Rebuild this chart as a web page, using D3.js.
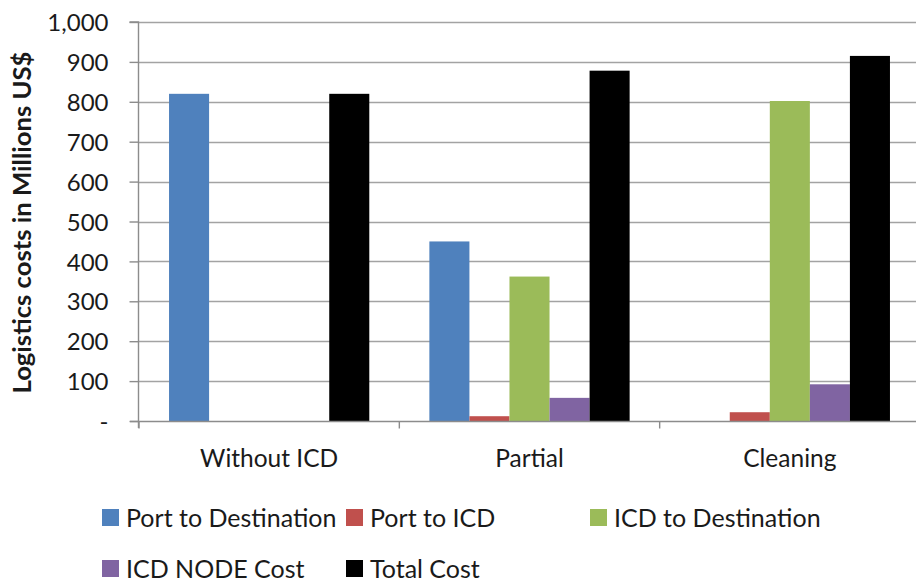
<!DOCTYPE html>
<html>
<head>
<meta charset="utf-8">
<script src="https://cdn.jsdelivr.net/npm/d3@7"></script>
<style>
  html, body { margin: 0; padding: 0; background: #fff; }
  svg { display: block; }
  text { font-family: Lato, "Open Sans", sans-serif; fill: #1a1a1a; }
</style>
</head>
<body>
<svg id="chart" width="916" height="582"></svg>
<script>
const categories = ["Without ICD", "Partial", "Cleaning"];
const seriesNames = ["Port to Destination", "Port to ICD", "ICD to Destination", "ICD NODE Cost", "Total Cost"];
const portToDestination = [820, 450, 0];
const portToICD = [0, 12, 22];
const icdToDestination = [0, 362, 802];
const icdNodeCost = [0, 58, 92];
const totalCost = [820, 878, 915];
const yTicks = [0, 100, 200, 300, 400, 500, 600, 700, 800, 900, 1000];
const yTickLabels = ["-", "100", "200", "300", "400", "500", "600", "700", "800", "900", "1,000"];
const yTitle = "Logistics costs in Millions US$";
const colors = ["#4f81bd", "#c0504d", "#9bbb59", "#8064a2", "#000000"];

const seriesValues = [portToDestination, portToICD, icdToDestination, icdNodeCost, totalCost];

const svg = d3.select("#chart");
const mLeft = 139, mRight = 920, mTop = 22, mBottom = 421;

const y = d3.scaleLinear().domain([0, 1000]).range([mBottom, mTop]);
const pIn = 60 / 260;
const x0 = d3.scaleBand().domain(categories).range([mLeft, mRight])
  .paddingInner(pIn).paddingOuter(pIn / 2);
const x1 = d3.scaleBand().domain(seriesNames).range([0, x0.bandwidth()]).padding(0);

// gridlines
svg.append("g")
  .selectAll("line")
  .data(yTicks.slice(1))
  .join("line")
  .attr("x1", mLeft).attr("x2", mRight)
  .attr("y1", d => Math.round(y(d)) + 0.5).attr("y2", d => Math.round(y(d)) + 0.5)
  .attr("stroke", "#a3a3a3").attr("stroke-width", 1.4);

// bars
const groups = svg.append("g").selectAll("g")
  .data(categories)
  .join("g")
  .attr("transform", d => `translate(${x0(d)},0)`);

groups.selectAll("rect")
  .data((c, i) => seriesNames.map((s, j) => ({ s, v: seriesValues[j][i], j })))
  .join("rect")
  .attr("x", d => x1(d.s))
  .attr("width", x1.bandwidth())
  .attr("y", d => y(d.v))
  .attr("height", d => y(0) - y(d.v))
  .attr("fill", d => colors[d.j]);

// y axis
const yAxis = d3.axisLeft(y).tickValues(yTicks)
  .tickFormat((d, i) => yTickLabels[i]).tickSize(9).tickPadding(21);
const gy = svg.append("g").attr("transform", `translate(${mLeft - 0.5},0)`).call(yAxis);
gy.select(".domain").attr("stroke", "#8c8c8c").attr("stroke-width", 1.4)
  .attr("d", `M-9,${mTop}H0V${mBottom + 7}`);
gy.selectAll(".tick line").attr("stroke", "#8c8c8c").attr("stroke-width", 1.4);
gy.selectAll(".tick text").style("font-size", "24px").attr("fill", "#1a1a1a")
  .style("font-family", "Lato, sans-serif").attr("dy", "0.36em");

// x axis
const gx = svg.append("g").attr("transform", `translate(0,${mBottom + 0.5})`);
gx.append("line").attr("x1", mLeft - 9).attr("x2", mRight).attr("stroke", "#8c8c8c").attr("stroke-width", 1.4);
const boundaries = categories.map(c => x0(c) - x0.step() * pIn / 2).concat([mRight - 1]);
gx.selectAll("line.tk").data(boundaries).join("line").attr("class", "tk")
  .attr("x1", d => d).attr("x2", d => d).attr("y1", 0).attr("y2", 7)
  .attr("stroke", "#8c8c8c").attr("stroke-width", 1.4);
gx.selectAll("text").data(categories).join("text")
  .attr("x", d => x0(d) + x0.bandwidth() / 2)
  .attr("y", 45)
  .attr("text-anchor", "middle")
  .style("font-size", "24.5px")
  .text(d => d);

// y title
svg.append("text")
  .attr("transform", `translate(31,${(mTop + mBottom) / 2 + 1}) rotate(-90)`)
  .attr("text-anchor", "middle")
  .style("font-size", "24px")
  .style("font-weight", "bold")
  .attr("fill", "#111")
  .attr("textLength", 342)
  .attr("lengthAdjust", "spacingAndGlyphs")
  .text(yTitle);

// legend
const legend = svg.append("g");
const item = legend.selectAll("g").data(seriesNames).join("g")
  .attr("transform", (d, i) => `translate(${102 + (i % 3) * 244},${509 + Math.floor(i / 3) * 51})`);
item.append("rect").attr("width", 17).attr("height", 17).attr("fill", (d, i) => colors[i]);
item.append("text").attr("x", 24).attr("y", 17.5)
  .style("font-size", "25px").text(d => d);
</script>
</body>
</html>
